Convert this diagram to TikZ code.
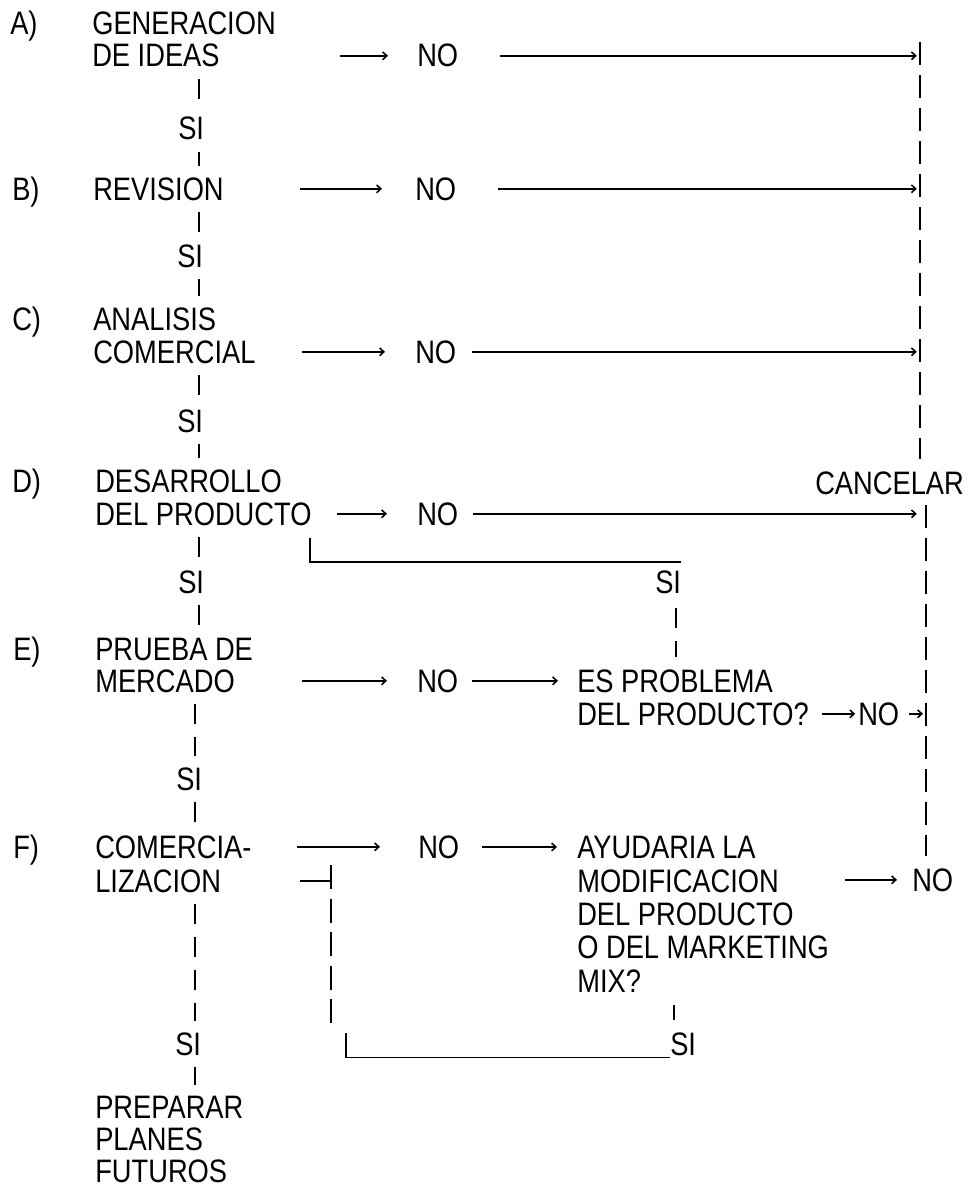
\documentclass[tikz,border=0pt]{standalone}
\usepackage{fontspec}
\setmainfont{Liberation Sans}[FakeStretch=0.84]
\usetikzlibrary{arrows.meta,calc}
\newcommand\dgfont{\fontsize{23.1}{26}\selectfont}
\newcommand\dgtightfont{\fontsize{23.1}{22.76}\selectfont}
\begin{document}
\begin{tikzpicture}[x=0.025cm,y=-0.025cm,
  txt/.style={anchor=base west,inner sep=0pt,font=\dgfont},
  txtblock/.style={anchor=north west,inner sep=0pt,align=left,font=\dgtightfont},
  conn/.style={line width=1.1pt},
  arr/.style={conn,-{Straight Barb[length=3pt,width=5.5pt,line width=1.1pt]}},
  vlink/.style={line width=1.3pt,dash pattern=on 0.5cm off 0.325cm},
  vlinkf/.style={line width=1.3pt,dash pattern=on 0.6cm off 0.24cm},
  vright/.style={line width=1.3pt,dash pattern=on 0.575cm off 0.25cm}]
\useasboundingbox (0,0) rectangle (972,1189);

% step labels
\node[txt] (lA) at (10,35) {A)};
\node[txt] (lB) at (12,200) {B)};
\node[txt] (lC) at (12,330) {C)};
\node[txt] (lD) at (12,492) {D)};
\node[txt] (lE) at (13,660) {E)};
\node[txt] (lF) at (13,858) {F)};

% left column
\node[txt] (A1) at (92,35) {GENERACION};
\node[txt] (A2) at (92,67) {DE IDEAS};
\node[txt] (siA) at (178,140) {SI};
\node[txt] (B) at (93,200) {REVISION};
\node[txt] (siB) at (177,267) {SI};
\node[txt] (C1) at (93,330) {ANALISIS};
\node[txt] (C2) at (93,363) {COMERCIAL};
\node[txt] (siC) at (177,432) {SI};
\node[txt] (D1) at (95,492) {DESARROLLO};
\node[txt] (D2) at (95,525) {DEL PRODUCTO};
\node[txt] (siD) at (178,593) {SI};
\node[txt] (E1) at (95,660) {PRUEBA DE};
\node[txt] (E2) at (95,692) {MERCADO};
\node[txt] (siE) at (176,790) {SI};
\node[txt] (F1) at (95,858) {COMERCIA-};
\node[txt] (F2) at (95,892) {LIZACION};
\node[txt] (siF) at (175,1055) {SI};
\node[txtblock] (G1) at (95,1096) {PREPARAR\\PLANES\\FUTUROS};

% NO column
\node[txt] (noA) at (417,67) {NO};
\node[txt] (noB) at (415,200) {NO};
\node[txt] (noC) at (415,363) {NO};
\node[txt] (noD) at (417,525) {NO};
\node[txt] (noE) at (417,692) {NO};
\node[txt] (noF) at (418,858) {NO};

% right side texts
\node[txt] (cancelar) at (815,494) {CANCELAR};
\node[txt] (siD2) at (655,593) {SI};
\node[txt] (ES1) at (577,692) {ES PROBLEMA};
\node[txt] (ES2) at (577,725) {DEL PRODUCTO?};
\node[txt] (noE2) at (858,725) {NO};
\node[txt] (AY1) at (577,858) {AYUDARIA LA};
\node[txt] (AY2) at (577,892) {MODIFICACION};
\node[txt] (AY3) at (577,925) {DEL PRODUCTO};
\node[txt] (AY4) at (577,958) {O DEL MARKETING};
\node[txt] (AY5) at (577,992) {MIX?};
\node[txt] (noF2) at (912,891) {NO};
\node[txt] (siF2) at (670,1055) {SI};

% helper coordinates
\coordinate (cL1) at (199,0);
\coordinate (cL2) at (195,0);
\coordinate (rTop) at (920,42);
\coordinate (rBot) at (926,0);
\coordinate (sA) at (340,0);
\coordinate (sB) at (300,0);
\coordinate (sC) at (302,0);
\coordinate (sD) at (337,0);
\coordinate (sE) at (302,0);
\coordinate (sF) at (297,0);
\coordinate (lnA) at (500,0);
\coordinate (lnB) at (498,0);
\coordinate (lnC) at (472,0);
\coordinate (lnD) at (473,0);
\coordinate (sE2) at (472,0);
\coordinate (sF2) at (482,0);
\coordinate (sEq) at (822,0);
\coordinate (sFq) at (845,0);

% arrows to NO
\draw[arr,shorten >=0.725cm] (sA |- noA.west) -- (noA.west);
\draw[arr,shorten >=0.825cm] (sB |- noB.west) -- (noB.west);
\draw[arr,shorten >=0.75cm] (sC |- noC.west) -- (noC.west);
\draw[arr,shorten >=0.75cm] (sD |- noD.west) -- (noD.west);
\draw[arr,shorten >=0.75cm] (sE |- noE.west) -- (noE.west);
\draw[arr,shorten >=0.95cm] (sF |- noF.west) -- (noF.west);

% NO -> cancel line
\draw[arr,shorten >=0.08cm] (lnA |- noA.west) -- (rTop |- noA.west);
\draw[arr,shorten >=0.08cm] (lnB |- noB.west) -- (rTop |- noB.west);
\draw[arr,shorten >=0.08cm] (lnC |- noC.west) -- (rTop |- noC.west);
\draw[arr,shorten >=0.08cm] (lnD |- noD.west) -- (rTop |- noD.west);

% right vertical (cancel)
\draw[vright,shorten >=0.3cm] (rTop) -- (rTop |- cancelar.north);
\draw[vright,shorten <=0.25cm,shorten >=0.3cm] (rBot |- cancelar.south) -- (rBot |- noF2.north);

% E row
\draw[arr,shorten >=0.475cm] (sE2 |- ES1.west) -- (ES1.west);
\draw[arr,shorten >=0.07cm] (sEq |- noE2.west) -- (noE2.west);
\draw[arr,shorten <=0.225cm,shorten >=0.075cm] (noE2.east) -- (rBot |- noE2.west);

% F row
\draw[arr,shorten >=0.5cm] (sF2 |- AY1.west) -- (AY1.west);
\draw[arr,shorten >=0.375cm] (sFq |- noF2.west) -- (noF2.west);

% left column links
\draw[vlink,shorten <=0.275cm,shorten >=0.275cm] (cL1 |- A2.south) -- (cL1 |- siA.north);
\draw[vlink,shorten <=0.275cm,shorten >=0.275cm] (cL1 |- siA.south) -- (cL1 |- B.north);
\draw[vlink,shorten <=0.275cm,shorten >=0.275cm] (cL1 |- B.south) -- (cL1 |- siB.north);
\draw[vlink,shorten <=0.275cm,shorten >=0.275cm] (cL1 |- siB.south) -- (cL1 |- C1.north);
\draw[vlink,shorten <=0.275cm,shorten >=0.275cm] (cL1 |- C2.south) -- (cL1 |- siC.north);
\draw[vlink,shorten <=0.275cm,shorten >=0.275cm] (cL1 |- siC.south) -- (cL1 |- D1.north);
\draw[vlink,shorten <=0.275cm,shorten >=0.275cm] (cL1 |- D2.south) -- (cL1 |- siD.north);
\draw[vlink,shorten <=0.275cm,shorten >=0.275cm] (cL1 |- siD.south) -- (cL1 |- E1.north);
\draw[vlink,shorten <=0.275cm,shorten >=0.275cm] (cL2 |- E2.south) -- (cL2 |- siE.north);
\draw[vlink,shorten <=0.275cm,shorten >=0.275cm] (cL2 |- siE.south) -- (cL2 |- F1.north);
\draw[vlink,shorten <=0.275cm,shorten >=0.275cm] (cL2 |- F2.south) -- (cL2 |- siF.north);
\draw[vlink,shorten <=0.275cm,shorten >=0.275cm] (cL2 |- siF.south) -- (cL2 |- G1.north);

% D branch: SI from "ES PROBLEMA" back to D
\coordinate (dj) at (310,538);
\draw[conn] (dj) |- ($(siD2.north east)+(0,-8)$);
\coordinate (bD2) at ($(siD2.east)+(-5,0)$);
\draw[vlink,shorten <=0.35cm,shorten >=0.3cm] (bD2 |- siD2.south) -- (bD2 |- ES1.north);

% F loop: SI from "AYUDARIA" back to F
\coordinate (fv) at (331,0);
\coordinate (fh) at (300,0);
\draw[conn] (fv |- F2.west) -- (fh |- F2.west);
\coordinate (fvTop) at (331,865);
\coordinate (fvBot) at (331,1023);
\draw[vlinkf] (fvTop) -- (fvBot);
\coordinate (fc) at (346,1033);
\draw[conn] (fc) |- ($(siF2.south west)+(0,2)$);
\coordinate (bF2) at ($(siF2.west)+(4,0)$);
\draw[vlink,shorten <=0.325cm,shorten >=0.3cm] (bF2 |- AY5.south) -- (bF2 |- siF2.north);
\end{tikzpicture}
\end{document}
